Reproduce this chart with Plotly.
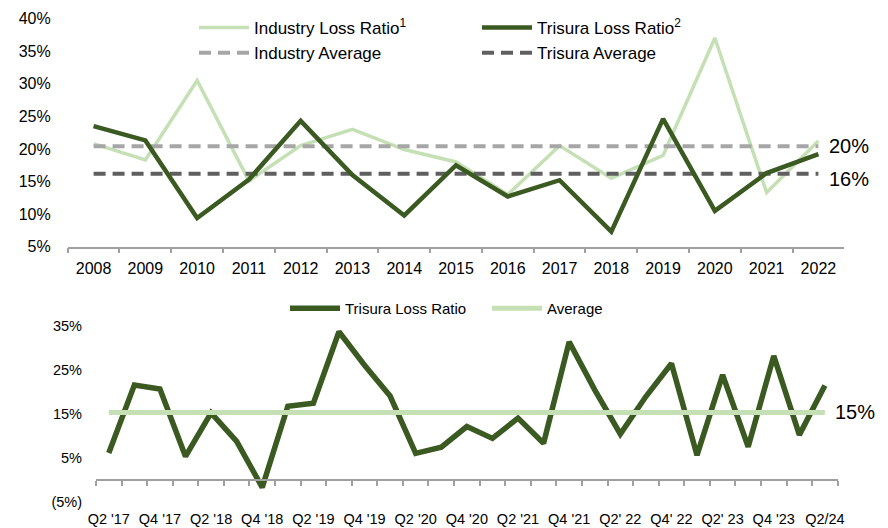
import plotly.graph_objects as go

# ---------------- data ----------------
years = ["2008", "2009", "2010", "2011", "2012", "2013", "2014", "2015",
         "2016", "2017", "2018", "2019", "2020", "2021", "2022"]
industry_loss_ratio = [20.8, 18.3, 30.5, 15.1, 20.5, 23.0, 19.9, 18.0,
                       13.0, 20.5, 15.5, 19.0, 37.0, 13.3, 21.2]
trisura_loss_ratio = [23.5, 21.3, 9.4, 15.3, 24.3, 16.0, 9.8, 17.5,
                      12.7, 15.2, 7.3, 24.6, 10.5, 16.3, 19.2]
industry_average = 20.4
trisura_average = 16.2

quarters = ["Q2 '17", "Q3 '17", "Q4 '17", "Q1 '18", "Q2 '18", "Q3 '18", "Q4 '18",
            "Q1 '19", "Q2 '19", "Q3 '19", "Q4 '19", "Q1 '20", "Q2 '20", "Q3 '20",
            "Q4 '20", "Q1 '21", "Q2 '21", "Q3 '21", "Q4 '21", "Q1' 22", "Q2' 22",
            "Q3' 22", "Q4' 22", "Q1' 23", "Q2' 23", "Q3' 23", "Q4 '23", "Q1/24", "Q2/24"]
quarter_tick_labels = ["Q2 '17", "Q4 '17", "Q2 '18", "Q4 '18", "Q2 '19", "Q4 '19",
                       "Q2 '20", "Q4 '20", "Q2 '21", "Q4 '21", "Q2' 22", "Q4' 22",
                       "Q2' 23", "Q4 '23", "Q2/24"]
quarterly_loss_ratio = [6.2, 21.6, 20.7, 5.4, 15.3, 8.8, -1.6, 16.8, 17.5, 33.7,
                        26.1, 19.1, 6.1, 7.5, 12.2, 9.5, 14.1, 8.4, 31.4, 20.5,
                        10.5, 19.0, 26.5, 5.7, 23.9, 7.6, 28.2, 10.3, 21.5]
quarterly_average = 15.4

top_y_ticks = [5, 10, 15, 20, 25, 30, 35, 40]
bottom_y_ticks = [-5, 5, 15, 25, 35]
bottom_y_ticktext = ["(5%)", "5%", "15%", "25%", "35%"]

# ---------------- style ----------------
FONT = "Arial, 'Liberation Sans', sans-serif"
DARK = "#3B5A22"
LIGHT = "#C5E0B4"
GREY_LIGHT = "#A6A6A6"
GREY_DARK = "#5F5F5F"
AXIS = "#A0A0A0"
# the page body keeps its default 8px margin, so the figure is sized to fit the window
OFF = 8
W, H = 888 - OFF, 528 - OFF

fig = go.Figure()

# top chart
fig.add_trace(go.Scatter(x=years, y=industry_loss_ratio, mode="lines",
                         name="Industry Loss Ratio<sup>1</sup>",
                         line=dict(color=LIGHT, width=3.5),
                         legend="legend", xaxis="x", yaxis="y"))
fig.add_trace(go.Scatter(x=years, y=[industry_average] * len(years), mode="lines",
                         name="Industry Average",
                         line=dict(color=GREY_LIGHT, width=4, dash="12px,7px"),
                         legend="legend", xaxis="x", yaxis="y"))
fig.add_trace(go.Scatter(x=years, y=[trisura_average] * len(years), mode="lines",
                         name="Trisura Average",
                         line=dict(color=GREY_DARK, width=4, dash="12px,7px"),
                         legend="legend2", legendrank=2, xaxis="x", yaxis="y"))
fig.add_trace(go.Scatter(x=years, y=trisura_loss_ratio, mode="lines",
                         name="Trisura Loss Ratio<sup>2</sup>",
                         line=dict(color=DARK, width=4.5),
                         legend="legend2", legendrank=1, xaxis="x", yaxis="y"))

# bottom chart
fig.add_trace(go.Scatter(x=quarters, y=quarterly_loss_ratio, mode="lines",
                         name="Trisura Loss Ratio",
                         line=dict(color=DARK, width=5.5),
                         legend="legend3", legendrank=1, xaxis="x2", yaxis="y2",
                         cliponaxis=False))
fig.add_trace(go.Scatter(x=quarters, y=[quarterly_average] * len(quarters), mode="lines",
                         name="Average",
                         line=dict(color=LIGHT, width=5),
                         legend="legend3", legendrank=2, xaxis="x2", yaxis="y2"))


def px_x(p):
    return (p - OFF) / W


def px_y(p):
    return 1 - (p - OFF) / H


# bottom chart geometry (window pixels)
b_top, b_bot = 326.0, 502.3
b_range = [-5, 35]
zero_frac = px_y(b_bot) + (0 - b_range[0]) / (b_range[1] - b_range[0]) * (px_y(b_top) - px_y(b_bot))

every_other = {q: "" for q in quarters}
for i, lab in enumerate(quarter_tick_labels):
    every_other[quarters[2 * i]] = lab

fig.update_layout(
    width=W, height=H,
    margin=dict(l=0, r=0, t=0, b=0, autoexpand=False),
    paper_bgcolor="white", plot_bgcolor="white",
    font=dict(family=FONT, color="#000000", size=16),
    xaxis=dict(domain=[px_x(67.7), px_x(844.3)], anchor="y", type="category",
               range=[-0.5, len(years) - 0.5], autorange=False, automargin=False,
               tickmode="array", tickvals=years, ticktext=years, tickangle=0,
               tickson="boundaries", ticks="outside", ticklen=5, tickcolor=AXIS,
               tickwidth=1.5, showline=True, linecolor=AXIS, linewidth=1.5,
               showgrid=False, tickfont=dict(size=16), ticklabelstandoff=6),
    yaxis=dict(domain=[px_y(246.7), px_y(18.5)], anchor="x", range=[5, 40], autorange=False,
               automargin=False, tickmode="array", tickvals=top_y_ticks,
               ticktext=[f"{v}%" for v in top_y_ticks],
               showgrid=False, zeroline=False, showline=False, tickfont=dict(size=16),
               ticklabelstandoff=16),
    xaxis2=dict(domain=[px_x(96), px_x(837.7)], anchor="free", position=zero_frac,
                type="category", range=[-0.5, len(quarters) - 0.5], autorange=False,
                automargin=False, tickmode="array", tickvals=quarters,
                ticktext=[every_other[q] for q in quarters], tickangle=0,
                tickson="boundaries", ticks="outside", ticklen=5, tickcolor=AXIS,
                tickwidth=1.5, showline=True, linecolor=AXIS, linewidth=1.5,
                showgrid=False, tickfont=dict(size=14.5), ticklabelstandoff=26),
    yaxis2=dict(domain=[px_y(b_bot), px_y(b_top)], anchor="x2", range=b_range,
                autorange=False, automargin=False, tickmode="array",
                tickvals=bottom_y_ticks, ticktext=bottom_y_ticktext,
                showgrid=False, zeroline=False, showline=False,
                tickfont=dict(size=14.5), ticklabelstandoff=13),
    legend=dict(x=px_x(194), y=px_y(10), xanchor="left", yanchor="top",
                orientation="v", font=dict(size=17), itemwidth=50,
                bgcolor="rgba(0,0,0,0)", tracegroupgap=0),
    legend2=dict(x=px_x(477), y=px_y(10), xanchor="left", yanchor="top",
                 orientation="v", font=dict(size=17), itemwidth=50,
                 bgcolor="rgba(0,0,0,0)", tracegroupgap=0),
    legend3=dict(x=px_x(285), y=px_y(292), xanchor="left", yanchor="top",
                 orientation="h", font=dict(size=15), itemwidth=50,
                 entrywidth=137, bgcolor="rgba(0,0,0,0)"),
    showlegend=True,
)

# end labels for averages
fig.add_annotation(x=len(years) - 1, y=industry_average, xref="x", yref="y",
                   text=f"{industry_average:.0f}%", showarrow=False,
                   xanchor="left", xshift=9, font=dict(size=20))
fig.add_annotation(x=len(years) - 1, y=trisura_average, xref="x", yref="y",
                   text=f"{trisura_average:.0f}%", showarrow=False,
                   xanchor="left", xshift=9, yshift=-5, font=dict(size=20))
fig.add_annotation(x=len(quarters) - 1, y=quarterly_average, xref="x2", yref="y2",
                   text=f"{quarterly_average:.0f}%", showarrow=False,
                   xanchor="left", xshift=8, font=dict(size=20))

fig.write_html("out.html")
